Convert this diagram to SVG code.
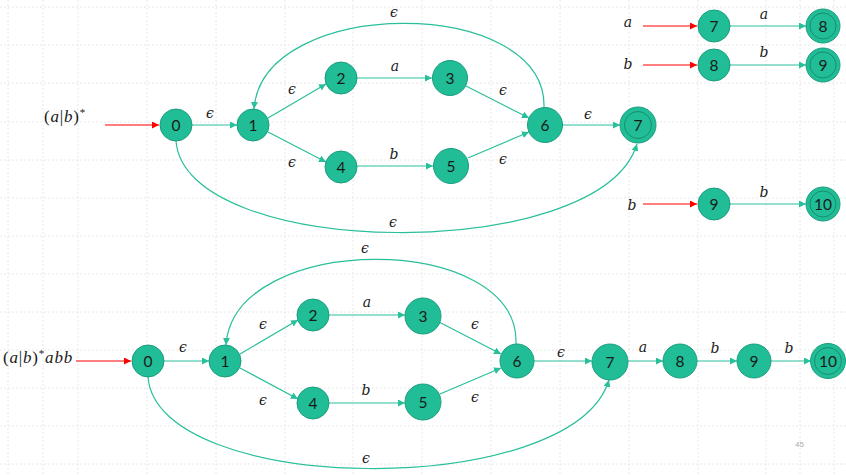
<svg xmlns="http://www.w3.org/2000/svg" width="846" height="475" viewBox="0 0 846 475">
<defs>
<marker id="ah" viewBox="0 0 10 10" refX="10" refY="5" markerWidth="7" markerHeight="7" markerUnits="userSpaceOnUse" orient="auto"><path d="M0,0 L10,5 L0,10 z" fill="#2ABF9B"/></marker>
<marker id="ahr" viewBox="0 0 10 10" refX="10" refY="5" markerWidth="7" markerHeight="7" markerUnits="userSpaceOnUse" orient="auto"><path d="M0,0 L10,5 L0,10 z" fill="#FF0000"/></marker>
<style>
.grid line{stroke:#e8e8e8;stroke-width:1;stroke-dasharray:2 2}
.n{fill:#20BD96;stroke:#1A9E7E;stroke-width:1}
.in{fill:none;stroke:#178F71;stroke-width:1}
.nt{font-family:Lato,"Liberation Sans",sans-serif;font-size:15.5px;fill:#1a1a1a;text-anchor:middle}
.e{fill:none;stroke:#2ABF9B;stroke-width:1.2;marker-end:url(#ah)}
.r{fill:none;stroke:#FF0000;stroke-width:1.2;marker-end:url(#ahr)}
.l{font-family:"DejaVu Serif","Liberation Serif",serif;font-style:italic;font-size:14px;fill:#1a1a1a;text-anchor:middle}
.m{font-family:"Liberation Serif",serif;font-size:17px;letter-spacing:0.8px;fill:#1a1a1a}
.i{font-style:italic}
.pg{font-family:"Liberation Sans",sans-serif;font-size:8px;fill:#aaaaaa}
</style>
</defs>
<rect width="846" height="475" fill="#ffffff"/>
<g class="grid">
<line x1="8" y1="0" x2="8" y2="475"/><line x1="43" y1="0" x2="43" y2="475"/><line x1="78" y1="0" x2="78" y2="475"/><line x1="147" y1="0" x2="147" y2="475"/><line x1="216" y1="0" x2="216" y2="475"/><line x1="285" y1="0" x2="285" y2="475"/><line x1="353" y1="0" x2="353" y2="475"/><line x1="422" y1="0" x2="422" y2="475"/><line x1="491" y1="0" x2="491" y2="475"/><line x1="560" y1="0" x2="560" y2="475"/><line x1="629" y1="0" x2="629" y2="475"/><line x1="698" y1="0" x2="698" y2="475"/><line x1="766" y1="0" x2="766" y2="475"/><line x1="800" y1="0" x2="800" y2="475"/><line x1="834" y1="0" x2="834" y2="475"/>
<line x1="0" y1="7" x2="846" y2="7"/><line x1="0" y1="45" x2="846" y2="45"/><line x1="0" y1="83" x2="846" y2="83"/><line x1="0" y1="122" x2="846" y2="122"/><line x1="0" y1="160" x2="846" y2="160"/><line x1="0" y1="198" x2="846" y2="198"/><line x1="0" y1="236" x2="846" y2="236"/><line x1="0" y1="274" x2="846" y2="274"/><line x1="0" y1="312" x2="846" y2="312"/><line x1="0" y1="350" x2="846" y2="350"/><line x1="0" y1="388" x2="846" y2="388"/><line x1="0" y1="426" x2="846" y2="426"/><line x1="0" y1="464" x2="846" y2="464"/>
</g>
<g id="connectors">
<line class="r" x1="105" y1="125" x2="159" y2="125"/>
<line class="e" x1="192" y1="125" x2="237" y2="125"/>
<line class="e" x1="268" y1="118" x2="326" y2="84"/>
<line class="e" x1="268" y1="132" x2="326" y2="162"/>
<line class="e" x1="357" y1="78" x2="432" y2="78"/>
<line class="e" x1="357" y1="166" x2="433" y2="166"/>
<line class="e" x1="466" y1="86" x2="529" y2="118"/>
<line class="e" x1="468" y1="158" x2="529" y2="132"/>
<line class="e" x1="562" y1="125" x2="620" y2="125"/>
<path class="e" d="M544,108 C548,-5 262,-5 254,109"/>
<path class="e" d="M176,141 C185,260 600,265 637,144"/>
<line class="r" x1="643" y1="26" x2="697" y2="26"/>
<line class="e" x1="730" y1="26" x2="806" y2="26"/>
<line class="r" x1="643" y1="65" x2="697" y2="65"/>
<line class="e" x1="730" y1="65" x2="806" y2="65"/>
<line class="r" x1="643" y1="204" x2="697" y2="204"/>
<line class="e" x1="730" y1="204" x2="806" y2="204"/>
<line class="r" x1="76" y1="361" x2="131" y2="361"/>
<line class="e" x1="164" y1="361" x2="209" y2="361"/>
<line class="e" x1="240" y1="354" x2="298" y2="320"/>
<line class="e" x1="240" y1="368" x2="298" y2="399"/>
<line class="e" x1="329" y1="315" x2="405" y2="315"/>
<line class="e" x1="329" y1="403" x2="405" y2="403"/>
<line class="e" x1="439" y1="322" x2="501" y2="354"/>
<line class="e" x1="440" y1="394" x2="501" y2="368"/>
<line class="e" x1="534" y1="361" x2="592" y2="361"/>
<line class="e" x1="628" y1="361" x2="663" y2="361"/>
<line class="e" x1="697" y1="361" x2="737" y2="361"/>
<line class="e" x1="771" y1="361" x2="811" y2="361"/>
<path class="e" d="M516,344 C520,231 234,231 226,345"/>
<path class="e" d="M148,377 C157,496 572,501 609,380"/>
</g>
<g id="labels">
<text class="m" x="44" y="122">(<tspan class="i">a</tspan>|<tspan class="i">b</tspan>)<tspan font-size="11" dy="-6">*</tspan></text>
<text class="m" x="3" y="363">(<tspan class="i">a</tspan>|<tspan class="i">b</tspan>)<tspan font-size="11" dy="-6">*</tspan><tspan class="i" dy="6">abb</tspan></text>
<text class="l" x="210" y="118">ϵ</text>
<text class="l" x="292" y="94">ϵ</text>
<text class="l" x="292" y="167">ϵ</text>
<text class="l" x="395" y="71">a</text>
<text class="l" x="394" y="159">b</text>
<text class="l" x="503" y="95">ϵ</text>
<text class="l" x="503" y="164">ϵ</text>
<text class="l" x="588" y="119">ϵ</text>
<text class="l" x="394" y="17">ϵ</text>
<text class="l" x="393" y="227">ϵ</text>
<text class="l" x="628" y="27" font-size="16">a</text>
<text class="l" x="764" y="19">a</text>
<text class="l" x="628" y="69" font-size="16">b</text>
<text class="l" x="764" y="57">b</text>
<text class="l" x="632" y="210" font-size="16">b</text>
<text class="l" x="764" y="197">b</text>
<text class="l" x="183" y="352">ϵ</text>
<text class="l" x="263" y="329">ϵ</text>
<text class="l" x="263" y="405">ϵ</text>
<text class="l" x="367" y="307">a</text>
<text class="l" x="366" y="395">b</text>
<text class="l" x="475" y="329">ϵ</text>
<text class="l" x="475" y="402">ϵ</text>
<text class="l" x="561" y="357">ϵ</text>
<text class="l" x="365" y="253">ϵ</text>
<text class="l" x="366" y="463">ϵ</text>
<text class="l" x="643" y="352">a</text>
<text class="l" x="715" y="353">b</text>
<text class="l" x="789" y="353">b</text>
<text class="pg" x="795" y="447">45</text>
</g>
<g id="top-0"><circle class="n" cx="176" cy="125" r="16"/><text class="nt" x="176" y="130.5">0</text></g>
<g id="top-1"><circle class="n" cx="253" cy="125" r="16"/><text class="nt" x="253" y="130.5">1</text></g>
<g id="top-2"><circle class="n" cx="341" cy="78" r="16"/><text class="nt" x="341" y="83.5">2</text></g>
<g id="top-3"><circle class="n" cx="450" cy="78" r="17.5"/><text class="nt" x="450" y="83.5">3</text></g>
<g id="top-4"><circle class="n" cx="341" cy="167" r="16"/><text class="nt" x="341" y="172.5">4</text></g>
<g id="top-5"><circle class="n" cx="451" cy="166" r="17.5"/><text class="nt" x="451" y="171.5">5</text></g>
<g id="top-6"><circle class="n" cx="545" cy="125" r="17.5"/><text class="nt" x="545" y="130.5">6</text></g>
<g id="top-7"><circle class="n" cx="638" cy="125" r="18"/><circle class="in" cx="638" cy="125" r="13.5"/><text class="nt" x="638" y="130.5">7</text></g>
<g id="a-7"><circle class="n" cx="714" cy="26" r="16"/><text class="nt" x="714" y="31.5">7</text></g>
<g id="a-8"><circle class="n" cx="823" cy="26" r="17"/><circle class="in" cx="823" cy="26" r="13"/><text class="nt" x="823" y="31.5">8</text></g>
<g id="b-8"><circle class="n" cx="714" cy="65" r="16"/><text class="nt" x="714" y="70.5">8</text></g>
<g id="b-9"><circle class="n" cx="823" cy="65" r="17"/><circle class="in" cx="823" cy="65" r="13"/><text class="nt" x="823" y="70.5">9</text></g>
<g id="c-9"><circle class="n" cx="714" cy="204" r="16"/><text class="nt" x="714" y="209.5">9</text></g>
<g id="c-10"><circle class="n" cx="823" cy="204" r="17"/><circle class="in" cx="823" cy="204" r="13"/><text class="nt" x="823" y="209.5">10</text></g>
<g id="bot-0"><circle class="n" cx="148" cy="361" r="16"/><text class="nt" x="148" y="366.5">0</text></g>
<g id="bot-1"><circle class="n" cx="225" cy="361" r="16"/><text class="nt" x="225" y="366.5">1</text></g>
<g id="bot-2"><circle class="n" cx="313" cy="315" r="16"/><text class="nt" x="313" y="320.5">2</text></g>
<g id="bot-3"><circle class="n" cx="423" cy="316" r="18"/><text class="nt" x="423" y="321.5">3</text></g>
<g id="bot-4"><circle class="n" cx="313" cy="403" r="16"/><text class="nt" x="313" y="408.5">4</text></g>
<g id="bot-5"><circle class="n" cx="423" cy="402" r="18"/><text class="nt" x="423" y="407.5">5</text></g>
<g id="bot-6"><circle class="n" cx="517" cy="361" r="17"/><text class="nt" x="517" y="366.5">6</text></g>
<g id="bot-7"><circle class="n" cx="610" cy="362" r="18"/><text class="nt" x="610" y="367.5">7</text></g>
<g id="bot-8"><circle class="n" cx="680" cy="361" r="17"/><text class="nt" x="680" y="366.5">8</text></g>
<g id="bot-9"><circle class="n" cx="754" cy="361" r="17"/><text class="nt" x="754" y="366.5">9</text></g>
<g id="bot-10"><circle class="n" cx="828" cy="361" r="17.5"/><circle class="in" cx="828" cy="361" r="13.5"/><text class="nt" x="828" y="366.5">10</text></g>
</svg>
